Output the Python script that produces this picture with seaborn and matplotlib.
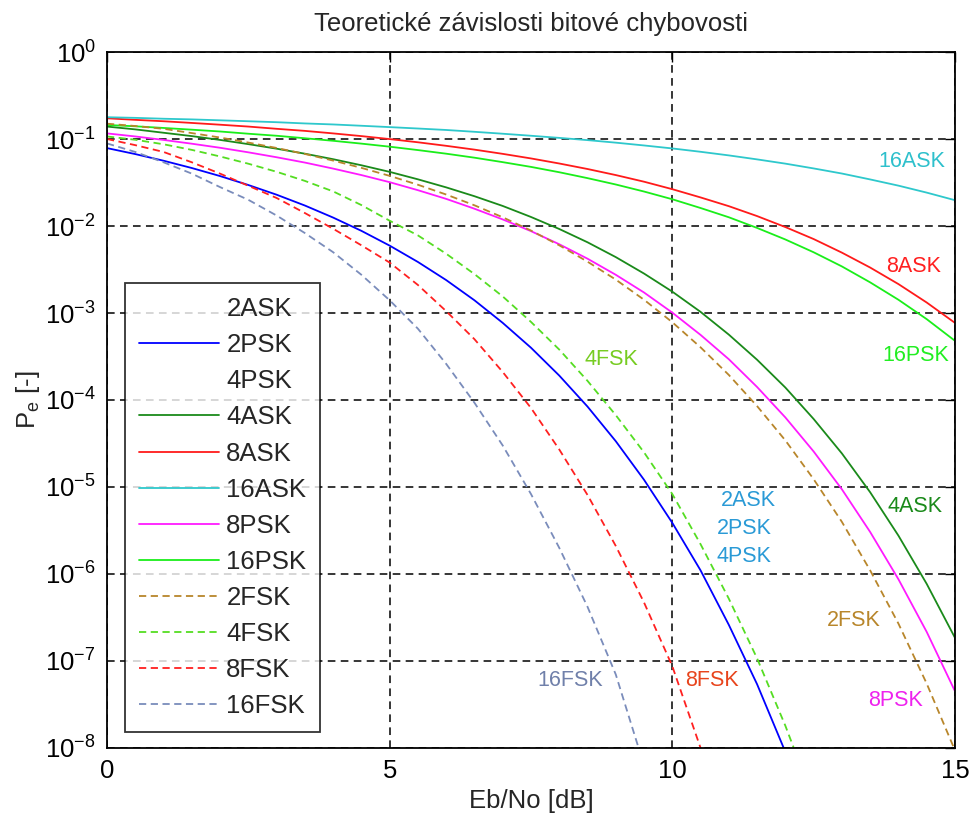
import numpy as np
import matplotlib
matplotlib.use("Agg")
import matplotlib.pyplot as plt
import seaborn as sns

# Eb/No axis [dB], half-dB steps
ebno = [0, 0.5, 1, 1.5, 2, 2.5, 3, 3.5, 4, 4.5, 5, 5.5, 6, 6.5, 7, 7.5,
        8, 8.5, 9, 9.5, 10, 10.5, 11, 11.5, 12, 12.5, 13, 13.5, 14, 14.5, 15]

# bit error probabilities
p_2psk = [7.86e-2, 6.71e-2, 5.63e-2, 4.64e-2, 3.75e-2, 2.96e-2, 2.29e-2, 1.72e-2,
          1.25e-2, 8.8e-3, 5.95e-3, 3.86e-3, 2.39e-3, 1.40e-3, 7.7e-4, 3.99e-4,
          1.91e-4, 8.4e-5, 3.36e-5, 1.21e-5, 3.87e-6, 1.1e-6, 2.6e-7, 5.4e-8, 9.0e-9]
p_4ask = [0.139, 0.129, 0.118, 0.108, 0.0976, 0.0873, 0.0774, 0.0678, 0.0586, 0.0499,
          0.0419, 0.0344, 0.0278, 0.0220, 0.0170, 0.0127, 9.24e-3, 6.5e-3, 4.39e-3,
          2.84e-3, 1.76e-3, 1.03e-3, 5.64e-4, 2.9e-4, 1.39e-4, 6.05e-5, 2.43e-5,
          8.7e-6, 2.76e-6, 7.7e-7, 1.85e-7]
p_8ask = [0.173, 0.166, 0.160, 0.153, 0.146, 0.139, 0.131, 0.124, 0.116, 0.108,
          0.0998, 0.0917, 0.0835, 0.0755, 0.0675, 0.0598, 0.0523, 0.0452, 0.0385,
          0.0323, 0.0265, 0.0213, 0.0169, 0.0130, 9.72e-3, 7.08e-3, 4.94e-3,
          3.33e-3, 2.15e-3, 1.32e-3, 7.7e-4]
p_16ask = [0.178, 0.175, 0.171, 0.168, 0.164, 0.160, 0.156, 0.151, 0.147, 0.142,
           0.137, 0.132, 0.127, 0.121, 0.115, 0.109, 0.103, 0.0971, 0.0908, 0.0843,
           0.0779, 0.0713, 0.0648, 0.0583, 0.0521, 0.0459, 0.0401, 0.0343, 0.0291,
           0.0242, 0.0198]
p_8psk = [0.116, 0.107, 0.0976, 0.0883, 0.0793, 0.0703, 0.0617, 0.0536, 0.0457,
          0.0385, 0.0319, 0.0258, 0.0205, 0.0158, 0.0119, 8.73e-3, 6.17e-3, 4.21e-3,
          2.75e-3, 1.72e-3, 1.01e-3, 5.6e-4, 2.94e-4, 1.41e-4, 6.3e-5, 2.56e-5,
          9.4e-6, 3.04e-6, 8.7e-7, 2.16e-7, 4.5e-8]
p_16psk = [0.145, 0.140, 0.134, 0.128, 0.122, 0.115, 0.109, 0.102, 0.0954, 0.0885,
           0.0816, 0.0746, 0.0678, 0.0610, 0.0542, 0.0478, 0.0415, 0.0355, 0.0300,
           0.0249, 0.0203, 0.0161, 0.0126, 9.5e-3, 7.0e-3, 4.99e-3, 3.43e-3,
           2.25e-3, 1.42e-3, 8.5e-4, 4.79e-4]
p_2fsk = [0.150, 0.141, 0.131, 0.117, 0.104, 0.0910, 0.0789, 0.0673, 0.0565, 0.0466,
          0.0377, 0.0298, 0.0230, 0.0173, 0.0126, 8.87e-3, 6.0e-3, 3.89e-3, 2.42e-3,
          1.42e-3, 7.83e-4, 4.03e-4, 1.94e-4, 8.5e-5, 3.43e-5, 1.23e-5, 3.97e-6,
          1.1e-6, 2.69e-7, 5.5e-8, 9.4e-9]
p_4fsk = [0.107, 0.098, 0.087, 0.075, 0.063, 0.052, 0.042, 0.033, 0.025, 0.0174,
          0.0115, 7.8e-3, 4.8e-3, 2.8e-3, 1.55e-3, 7.9e-4, 3.8e-4, 1.66e-4, 6.7e-5,
          2.5e-5, 8.3e-6, 2.2e-6, 5.2e-7, 1.07e-7, 1.8e-8, 2.5e-9]
p_8fsk = [0.100, 0.085, 0.071, 0.054, 0.040, 0.029, 0.021, 0.0141, 9.3e-3, 6.0e-3,
          3.8e-3, 2.1e-3, 1.05e-3, 5.0e-4, 2.1e-4, 8.1e-5, 2.7e-5, 8.1e-6, 2.1e-6,
          4.7e-7, 8.7e-8, 1.0e-8, 1.6e-9]
p_16fsk = [0.089, 0.071, 0.054, 0.040, 0.028, 0.020, 0.0132, 8.3e-3, 5.0e-3, 2.75e-3,
           1.4e-3, 6.6e-4, 2.6e-4, 9.3e-5, 3.0e-5, 8.3e-6, 2.0e-6, 4.2e-7, 7.0e-8,
           6.3e-9]

sns.set_style("white")
plt.rcParams['font.family'] = ['Liberation Sans', 'DejaVu Sans']
plt.rcParams['mathtext.fontset'] = 'custom'
plt.rcParams['mathtext.rm'] = 'Liberation Sans'
plt.rcParams['mathtext.it'] = 'Liberation Sans'
plt.rcParams['mathtext.default'] = 'regular'
FS = 18.5

fig = plt.figure(figsize=(9.7, 8.19), dpi=100)
ax = fig.add_axes([0.1103, 0.0867, 0.8742, 0.8498])

dash = (0, (4, 2.5))
series = [
    ("2ASK", p_2psk, "#0000ff", "none"),
    ("2PSK", p_2psk, "#0000ff", "-"),
    ("4PSK", p_2psk, "#0000ff", "none"),
    ("4ASK", p_4ask, "#1a8a1a", "-"),
    ("8ASK", p_8ask, "#ff1a1a", "-"),
    ("16ASK", p_16ask, "#2ec8cc", "-"),
    ("8PSK", p_8psk, "#ff1aff", "-"),
    ("16PSK", p_16psk, "#1aee1a", "-"),
    ("2FSK", p_2fsk, "#b8862b", dash),
    ("4FSK", p_4fsk, "#55dd22", dash),
    ("8FSK", p_8fsk, "#ff2020", dash),
    ("16FSK", p_16fsk, "#7a8cbb", dash),
]
for name, vals, col, ls in series:
    sns.lineplot(x=ebno[:len(vals)], y=vals, color=col, linestyle=ls,
                 linewidth=1.3, label=name, ax=ax, legend=False)

ax.set_yscale("log")
ax.set_xlim(0, 15)
ax.set_ylim(1e-8, 1)
ax.set_xticks([0, 5, 10, 15])
ax.set_yticks([10.0 ** k for k in range(-8, 1)])
ax.minorticks_off()
ax.grid(True, which="major", color="black", linestyle=(0, (5, 3.5)), linewidth=1.1)
ax.tick_params(direction="in", top=True, right=True, length=7, width=1,
               labelsize=FS, pad=8, colors="black")
for s in ax.spines.values():
    s.set_color("black")
    s.set_linewidth(1.3)

ax.set_title("Teoretické závislosti bitové chybovosti", fontsize=FS, pad=15)
ax.set_xlabel("Eb/No [dB]", fontsize=FS, labelpad=4)
ax.set_ylabel("P$_e$ [-]", fontsize=FS, labelpad=2)

# curve labels
labels = [
    ("16ASK", 14.24, 10 ** -1.26, "#2ec0cc"),
    ("8ASK", 14.26, 10 ** -2.46, "#ff2020"),
    ("16PSK", 14.31, 10 ** -3.49, "#22ee22"),
    ("4FSK", 8.93, 10 ** -3.54, "#77cc22"),
    ("2ASK", 11.35, 10 ** -5.15, "#2a9ad6"),
    ("2PSK", 11.27, 10 ** -5.48, "#2a9ad6"),
    ("4PSK", 11.27, 10 ** -5.80, "#2a9ad6"),
    ("4ASK", 14.29, 10 ** -5.22, "#1a8a1a"),
    ("2FSK", 13.21, 10 ** -6.53, "#b8862b"),
    ("16FSK", 8.19, 10 ** -7.22, "#7080aa"),
    ("8FSK", 10.70, 10 ** -7.22, "#e8441c"),
    ("8PSK", 13.94, 10 ** -7.45, "#ee22ee"),
]
for txt, lx, ly, col in labels:
    ax.text(lx, ly, txt, color=col, fontsize=FS - 3, ha="center", va="center")

leg = ax.legend(loc="upper left", bbox_to_anchor=(0.021, 0.668), borderaxespad=0,
                fontsize=FS, frameon=True, fancybox=False, handlelength=3.1,
                handletextpad=0.3, labelspacing=0.47, borderpad=0.55)
leg.get_frame().set_edgecolor("black")
leg.get_frame().set_linewidth(1.3)

fig.savefig("out.png", dpi=100, facecolor="white")
